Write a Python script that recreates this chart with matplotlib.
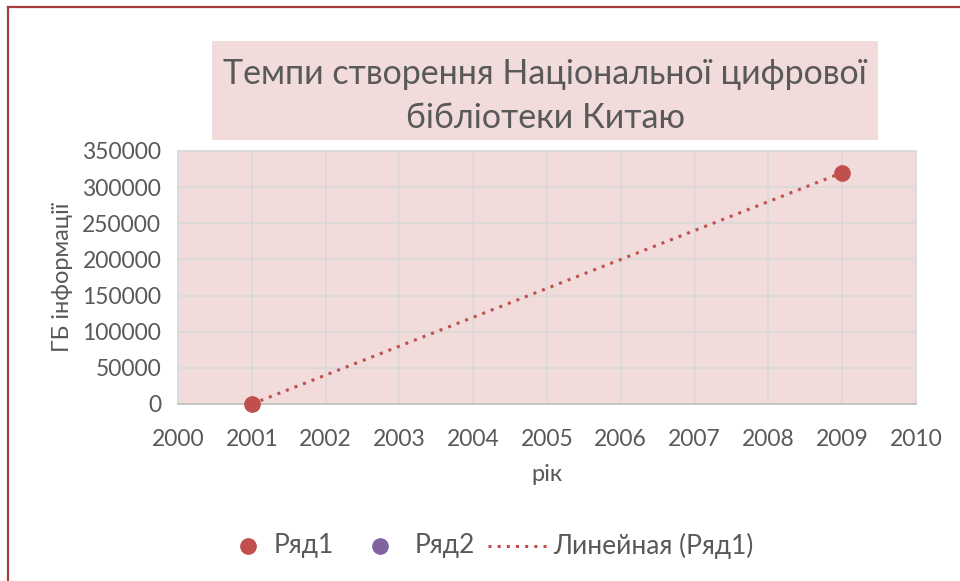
import numpy as np
import matplotlib.pyplot as plt
from matplotlib.patches import Rectangle
from matplotlib.lines import Line2D

# дані
years = [2001, 2009]
gb_info = [0, 320000]
series2_years = []
series2_vals = []

title = "Темпи створення Національної цифрової\nбібліотеки Китаю"
x_label = "рік"
y_label = "ГБ інформації"
legend_labels = ["Ряд1", "Ряд2", "Линейная (Ряд1)"]

pink = "#F2DCDB"
red = "#C0504D"
purple = "#8064A2"
text_col = "#595959"

plt.rcParams['font.family'] = ['Lato', 'DejaVu Sans']

W, H = 960, 581
fig = plt.figure(figsize=(9.6, 5.81), dpi=100)


def fx(px):
    return px / W


def fy(py):
    return 1 - py / H


# рамка діаграми
fig.add_artist(Line2D([fx(8), fx(8)], [0, fy(7)], transform=fig.transFigure,
                      color="#A5403D", lw=1.6))
fig.add_artist(Line2D([fx(8), 1], [fy(7), fy(7)], transform=fig.transFigure,
                      color="#A5403D", lw=1.6))

# заголовок з фоном
fig.add_artist(Rectangle((fx(212), fy(140)), fx(666), 99 / H,
                         transform=fig.transFigure, facecolor=pink, edgecolor="none"))
fig.text(fx(545), fy(96), title, ha="center", va="center",
         fontsize=24.5, color=text_col, linespacing=1.45)

ax = fig.add_axes([fx(178), fy(404), fx(738), 253 / H])
ax.set_facecolor(pink)
ax.set_xlim(2000, 2010)
ax.set_ylim(0, 350000)
ax.set_xticks(range(2000, 2011))
ax.set_yticks(range(0, 350001, 50000))
ax.grid(True, color="#D9D9D9", lw=1.2)
ax.set_axisbelow(True)
for s in ax.spines.values():
    s.set_color("#D9D9D9")
    s.set_linewidth(1.2)
ax.spines['bottom'].set_color("#BFBFBF")
ax.tick_params(length=0, labelsize=16.5, colors=text_col)
ax.tick_params(axis="x", pad=18)
ax.tick_params(axis="y", pad=12)

# лінійний тренд
k, b = np.polyfit(years, gb_info, 1)
tx = np.array([min(years), max(years)])
ax.plot(tx, k * tx + b, color=red, lw=2.2, linestyle=(0, (1, 2)), zorder=2)
ax.plot(years, gb_info, "o", color=red, ms=11, zorder=3, clip_on=False)
ax.plot(series2_years, series2_vals, "o", color=purple, ms=11)

ax.set_xlabel(x_label, fontsize=17, color=text_col, labelpad=10)
ax.set_ylabel(y_label, fontsize=17, color=text_col, labelpad=7)

# легенда
ly = fy(546)
fs_leg = 19
fig.add_artist(Line2D([fx(248)], [ly], marker="o", color=red, ms=11, ls="none",
                      transform=fig.transFigure))
fig.text(fx(274), ly, legend_labels[0], va="center", fontsize=fs_leg, color=text_col)
fig.add_artist(Line2D([fx(380)], [ly], marker="o", color=purple, ms=11, ls="none",
                      transform=fig.transFigure))
fig.text(fx(415), ly, legend_labels[1], va="center", fontsize=fs_leg, color=text_col)
fig.add_artist(Line2D([fx(488), fx(548)], [ly, ly], color=red, lw=2.2,
                      linestyle=(0, (1, 2)), transform=fig.transFigure))
fig.text(fx(553), ly, legend_labels[2], va="center", fontsize=fs_leg, color=text_col)

plt.savefig("out.png", dpi=100)
